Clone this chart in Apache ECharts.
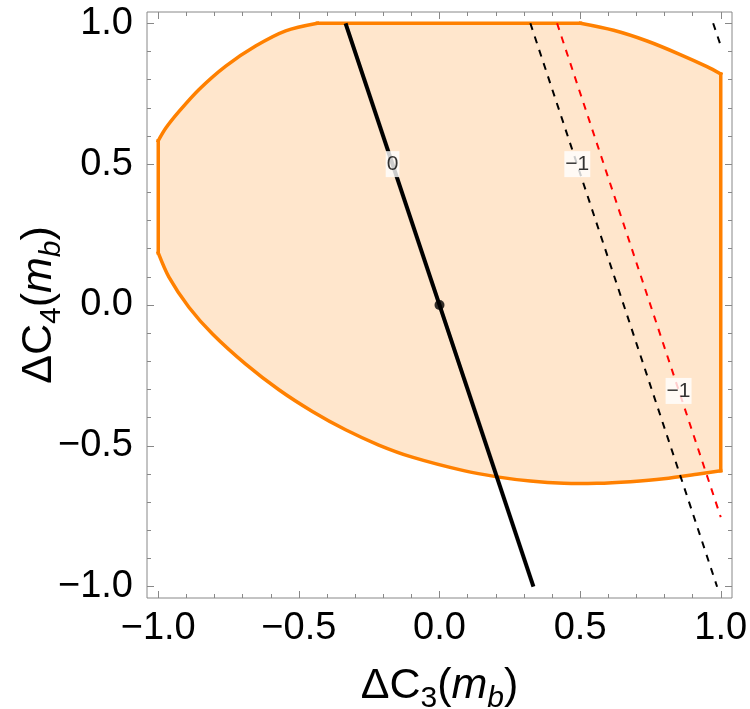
<!DOCTYPE html>
<html><head><meta charset="utf-8">
<script src="https://cdn.jsdelivr.net/npm/echarts@6/dist/echarts.min.js"></script>
<style>html,body{margin:0;padding:0;background:#fff}#c{width:750px;height:709px}</style>
</head><body><div id="c"></div>
<script>
// Allowed region boundary (orange): three curved arcs joined by straight edges
const arcUpperLeftX = [-1.0, -0.973, -0.926, -0.855, -0.760, -0.654, -0.547, -0.434];
const arcUpperLeftY = [0.583, 0.628, 0.687, 0.765, 0.848, 0.919, 0.973, 1.0];
const arcUpperRightX = [0.501, 0.619, 0.738, 0.856, 0.951, 1.0];
const arcUpperRightY = [1.0, 0.975, 0.937, 0.889, 0.846, 0.820];
const arcLowerX = [1.0, 0.915, 0.797, 0.679, 0.560, 0.442, 0.323, 0.205, 0.086, -0.097, -0.216, -0.334, -0.452, -0.571, -0.689, -0.807, -0.891, -0.962, -1.0];
const arcLowerY = [-0.588, -0.601, -0.617, -0.627, -0.633, -0.633, -0.625, -0.610, -0.588, -0.540, -0.497, -0.443, -0.378, -0.301, -0.210, -0.103, -0.008, 0.099, 0.185];

// Contour lines
const zeroLineX = [-0.334, 0.334];
const zeroLineY = [1.0, -1.0];
const blackDashX = [0.323, 0.987];
const blackDashY = [1.0, -1.0];
const blackDash2X = [0.973, 1.0];
const blackDash2Y = [1.0, 0.92];
const redDashX = [0.418, 1.0];
const redDashY = [1.0, -0.753];

// Contour labels
const contourLabelText = ['0', '\u22121', '\u22121'];
const contourLabelX = [-0.167, 0.49, 0.85];
const contourLabelY = [0.5, 0.5, -0.305];

// SM point
const originX = [0];
const originY = [0];

// Ticks
const majorTicks = [-1, -0.5, 0, 0.5, 1];
const tickLabels = ['\u22121.0', '\u22120.5', '0.0', '0.5', '1.0'];
const minorTicks = [-1, -0.9, -0.8, -0.7, -0.6, -0.5, -0.4, -0.3, -0.2, -0.1, 0, 0.1, 0.2, 0.3, 0.4, 0.5, 0.6, 0.7, 0.8, 0.9, 1];

const FONT = 'Liberation Sans, Arial, sans-serif';
const AXMIN = -1.04, AXMAX = 1.04;
const TICKCOL = '#888';
const ORANGE = '#ff8000';

function pairs(xs, ys) { return xs.map((x, i) => [x, ys[i]]); }
function labelFor(v) {
  const i = majorTicks.findIndex(t => Math.abs(t - v) < 1e-9);
  return i >= 0 ? tickLabels[i] : '';
}
const richName = {
  n: { fontSize: 43, lineHeight: 56, fontFamily: FONT, color: '#000' },
  i: { fontSize: 43, lineHeight: 56, fontStyle: 'italic', fontFamily: FONT, color: '#000' },
  s: { fontSize: 30, lineHeight: 30, verticalAlign: 'bottom', fontFamily: FONT, color: '#000' },
  is: { fontSize: 30, lineHeight: 30, verticalAlign: 'bottom', fontStyle: 'italic', fontFamily: FONT, color: '#000' }
};

function makeAxis(dim, pos, major, withLabel, name) {
  const ax = {
    type: 'value', position: pos, min: AXMIN, max: AXMAX,
    axisLine: { show: false, onZero: false },
    splitLine: { show: false },
    axisTick: {
      show: true, inside: true, length: major ? 7 : 4,
      customValues: major ? majorTicks : minorTicks,
      lineStyle: { color: TICKCOL, width: 1 }
    },
    axisLabel: withLabel ? {
      show: true, customValues: majorTicks, formatter: labelFor,
      fontSize: 38, fontFamily: FONT, color: '#000', margin: dim === 'x' ? 12 : 14
    } : { show: false }
  };
  if (name) {
    ax.name = name;
    ax.nameLocation = 'middle';
    ax.nameMoveOverlap = false;
    ax.nameTextStyle = { rich: richName };
    if (dim === 'x') { ax.nameGap = 60; }
    else { ax.nameGap = 80; ax.nameRotate = 90; }
  }
  return ax;
}

const chart = echarts.init(document.getElementById('c'), null, { renderer: 'canvas' });
chart.setOption({
  animation: false,
  backgroundColor: '#fff',
  grid: { left: 147, right: 18, top: 12, bottom: 111, show: true, borderColor: TICKCOL, borderWidth: 1,
          backgroundColor: 'transparent', containLabel: false, outerBoundsMode: 'none' },
  xAxis: [
    makeAxis('x', 'bottom', true, true, '{n|\u0394C}{s|3}{n|(}{i|m}{is|b}{n|)}'),
    makeAxis('x', 'bottom', false, false),
    makeAxis('x', 'top', true, false),
    makeAxis('x', 'top', false, false)
  ],
  yAxis: [
    makeAxis('y', 'left', true, true, '{n|\u0394C}{s|4}{n|(}{i|m}{is|b}{n|)}'),
    makeAxis('y', 'left', false, false),
    makeAxis('y', 'right', true, false),
    makeAxis('y', 'right', false, false)
  ],
  series: [
    {
      type: 'custom', z: 1, silent: true,
      data: [[0, 0]],
      renderItem: function (params, api) {
        const ul = pairs(arcUpperLeftX, arcUpperLeftY).map(p => api.coord(p));
        const ur = pairs(arcUpperRightX, arcUpperRightY).map(p => api.coord(p));
        const lo = pairs(arcLowerX, arcLowerY).map(p => api.coord(p));
        const strokeStyle = { fill: null, stroke: ORANGE, lineWidth: 3.5, lineCap: 'square', lineJoin: 'miter' };
        return {
          type: 'group',
          children: [
            { type: 'polygon', shape: { points: ul.concat(ur, lo), smooth: 0 },
              style: { fill: 'rgba(255,128,0,0.2)', stroke: null } },
            { type: 'polyline', shape: { points: ul, smooth: 0.3 }, style: strokeStyle },
            { type: 'polyline', shape: { points: ur, smooth: 0.3 }, style: strokeStyle },
            { type: 'polyline', shape: { points: lo, smooth: 0.3 }, style: strokeStyle },
            { type: 'polyline', shape: { points: [ul[ul.length - 1], ur[0]] }, style: strokeStyle },
            { type: 'polyline', shape: { points: [ur[ur.length - 1], lo[0]] }, style: strokeStyle },
            { type: 'polyline', shape: { points: [lo[lo.length - 1], ul[0]] }, style: strokeStyle }
          ]
        };
      }
    },
    {
      type: 'line', z: 3, symbol: 'none', data: pairs(zeroLineX, zeroLineY),
      lineStyle: { color: '#000', width: 4 }
    },
    {
      type: 'line', z: 3, symbol: 'none', data: pairs(blackDashX, blackDashY),
      lineStyle: { color: '#000', width: 2, type: [7, 7] }
    },
    {
      type: 'line', z: 3, symbol: 'none', data: pairs(blackDash2X, blackDash2Y),
      lineStyle: { color: '#000', width: 2, type: [7, 7] }
    },
    {
      type: 'line', z: 3, symbol: 'none', data: pairs(redDashX, redDashY),
      lineStyle: { color: '#ff0000', width: 2, type: [7, 7] }
    },
    {
      type: 'scatter', z: 4, symbol: 'circle', symbolSize: 10,
      data: pairs(originX, originY), itemStyle: { color: '#000' }
    },
    {
      type: 'scatter', z: 5, symbol: 'rect', symbolSize: 1,
      itemStyle: { color: 'rgba(0,0,0,0)' },
      data: contourLabelX.map((x, i) => ({ value: [x, contourLabelY[i]], name: contourLabelText[i] })),
      label: {
        show: true, position: 'inside', formatter: p => p.name,
        fontSize: 21, fontFamily: FONT, color: '#000',
        backgroundColor: '#fff', padding: [3, 1, 2, 1]
      }
    }
  ]
});
</script>
</body></html>
